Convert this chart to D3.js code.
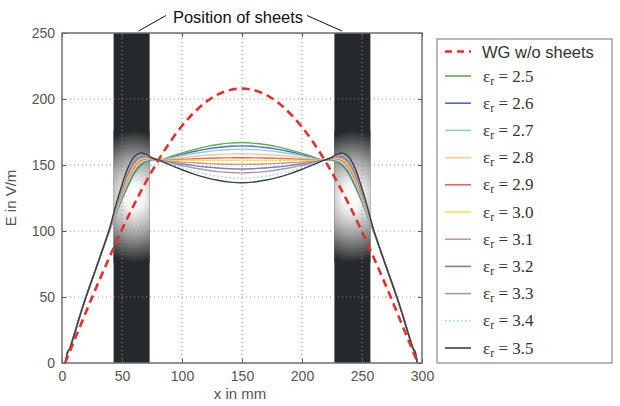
<!DOCTYPE html>
<html>
<head>
<meta charset="utf-8">
<script src="https://cdn.jsdelivr.net/npm/d3@7"></script>
<style>
  body { margin: 0; background: #fff; }
  svg { display: block; }
</style>
</head>
<body>
<svg width="620" height="406"></svg>
<script>
// ---- data ----
const xTicks = [0, 50, 100, 150, 200, 250, 300];
const yTicks = [0, 50, 100, 150, 200, 250];
const sheets = [[43, 73], [227, 257]];   // mm

// WG w/o sheets (red dashed)
const wgX = [2.5, 10, 20, 30, 40, 50, 60, 70, 80, 90, 100, 110, 120, 130, 140, 150,
             160, 170, 180, 190, 200, 210, 220, 230, 240, 250, 260, 270, 280, 290, 296.5];
const wgE = [0, 16.6, 38.7, 60.3, 81.1, 101.1, 119.9, 137.3, 153.2, 167.4, 179.7, 189.7, 197.8, 203.5, 206.9, 208,
             206.7, 203.2, 197.3, 189, 178.8, 166.3, 152, 136, 118.5, 99.5, 79.4, 58.4, 36.5, 14.4, 0];

// x positions of the eps_r curves
const epsX = [3, 5, 6, 10, 15, 20, 25, 30, 35,
              40, 45, 50, 55, 60, 65, 70, 75, 81,
              90, 100, 110, 120, 130, 140, 150,
              159, 169, 179, 189, 199, 209,
              218, 224, 229, 234, 239, 244, 249, 254, 259,
              264, 269, 274, 279, 284, 289, 293, 294, 296];
const rise = [0, 9, 10, 21, 36, 50, 63, 76, 89];   // common to all curves
const fall = [89, 76, 63, 50, 36, 21, 10, 9, 0];

const epsLabels = ["2.5", "2.6", "2.7", "2.8", "2.9", "3.0", "3.1", "3.2", "3.3", "3.4", "3.5"];
const epsColors = ["#55b547", "#5a66c4", "#86d2d8", "#f6c898", "#f0674a", "#f0e44a",
                   "#c49a9a", "#7484aa", "#ab94b4", "#8fd6d6", "#3c4044"];
const epsMid = [
  [101, 113, 124, 134, 143, 149, 152.5, 154, 153.5, 156.2, 159.2, 161.7, 163.9, 165.5, 166.6, 167,
   166.6, 165.5, 163.9, 161.7, 159.2, 156.2, 153.5, 154, 152.5, 149, 143, 134, 124, 113, 101],
  [101.2, 113.7, 125.1, 135.4, 144.3, 150, 153.1, 154.2, 153.5, 155.7, 158.1, 160.2, 162, 163.3, 164.2, 164.5,
   164.2, 163.3, 162, 160.2, 158.1, 155.7, 153.5, 154.2, 153.1, 150, 144.3, 135.4, 125.1, 113.7, 101.2],
  [101.4, 114.4, 126.2, 136.8, 145.6, 151, 153.6, 154.3, 153.5, 155.2, 157.1, 158.7, 160, 161.1, 161.7, 162,
   161.7, 161.1, 160, 158.7, 157.1, 155.2, 153.5, 154.3, 153.6, 151, 145.6, 136.8, 126.2, 114.4, 101.4],
  [101.6, 115.1, 127.3, 138.2, 146.9, 152, 154.2, 154.5, 153.5, 154.5, 155.6, 156.6, 157.4, 158, 158.4, 158.5,
   158.4, 158, 157.4, 156.6, 155.6, 154.5, 153.5, 154.5, 154.2, 152, 146.9, 138.2, 127.3, 115.1, 101.6],
  [101.8, 115.8, 128.4, 139.6, 148.2, 153, 154.7, 154.6, 153.5, 153.9, 154.3, 154.7, 155, 155.3, 155.4, 155.5,
   155.4, 155.3, 155, 154.7, 154.3, 153.9, 153.5, 154.6, 154.7, 153, 148.2, 139.6, 128.4, 115.8, 101.8],
  [102, 116.5, 129.5, 141, 149.5, 154, 155.3, 154.8, 153.5, 153.5, 153.5, 153.5, 153.5, 153.5, 153.5, 153.5,
   153.5, 153.5, 153.5, 153.5, 153.5, 153.5, 153.5, 154.8, 155.3, 154, 149.5, 141, 129.5, 116.5, 102],
  [102.2, 117.2, 130.6, 142.4, 150.8, 155, 155.8, 154.9, 153.5, 152.9, 152.2, 151.7, 151.2, 150.8, 150.6, 150.5,
   150.6, 150.8, 151.2, 151.7, 152.2, 152.9, 153.5, 154.9, 155.8, 155, 150.8, 142.4, 130.6, 117.2, 102.2],
  [102.4, 117.9, 131.7, 143.8, 152.1, 156, 156.4, 155.1, 153.5, 152.2, 150.8, 149.5, 148.5, 147.7, 147.2, 147,
   147.2, 147.7, 148.5, 149.5, 150.8, 152.2, 153.5, 155.1, 156.4, 156, 152.1, 143.8, 131.7, 117.9, 102.4],
  [102.6, 118.6, 132.8, 145.2, 153.4, 157, 156.9, 155.2, 153.5, 151.6, 149.5, 147.7, 146.2, 145, 144.3, 144,
   144.3, 145, 146.2, 147.7, 149.5, 151.6, 153.5, 155.2, 156.9, 157, 153.4, 145.2, 132.8, 118.6, 102.6],
  [102.8, 119.3, 133.9, 146.6, 154.7, 158, 157.5, 155.4, 153.5, 150.8, 147.8, 145.3, 143.1, 141.5, 140.4, 140,
   140.4, 141.5, 143.1, 145.3, 147.8, 150.8, 153.5, 155.4, 157.5, 158, 154.7, 146.6, 133.9, 119.3, 102.8],
  [103, 120, 135, 148, 156, 159, 158, 155.5, 153.5, 150.1, 146.4, 143.1, 140.4, 138.4, 137, 136.5,
   137, 138.4, 140.4, 143.1, 146.4, 150.1, 153.5, 155.5, 158, 159, 156, 148, 135, 120, 103]
];

// ---- drawing ----
const svg = d3.select("svg");
const font = "'Liberation Sans', Arial, sans-serif";

const x = d3.scaleLinear().domain([0, 300]).range([62, 422]);
const y = d3.scaleLinear().domain([0, 250]).range([363, 33]);

const defs = svg.append("defs");
defs.append("clipPath").attr("id", "plot")
  .append("rect").attr("x", 62).attr("y", 33).attr("width", 360).attr("height", 330);

// sheets with a soft white glow
sheets.forEach((s, i) => {
  const cx = (x(s[0]) + x(s[1])) / 2 + (i === 0 ? 3 : 0);
  const cy = y(126);
  const g = defs.append("radialGradient").attr("id", "glow" + i)
    .attr("gradientUnits", "userSpaceOnUse")
    .attr("cx", cx).attr("cy", cy).attr("r", 66)
    .attr("gradientTransform", `translate(${cx},${cy}) scale(0.75,1) translate(${-cx},${-cy})`);
  g.append("stop").attr("offset", 0).attr("stop-color", "#ffffff");
  g.append("stop").attr("offset", 0.2).attr("stop-color", "#f4f4f4");
  g.append("stop").attr("offset", 0.55).attr("stop-color", "#a8a8a8");
  g.append("stop").attr("offset", 1).attr("stop-color", "#26292b");

  svg.append("rect")
    .attr("x", x(s[0])).attr("y", y(250))
    .attr("width", x(s[1]) - x(s[0])).attr("height", y(0) - y(250))
    .attr("fill", "#26292b");
  svg.append("rect")
    .attr("x", x(s[0])).attr("y", cy - 66)
    .attr("width", x(s[1]) - x(s[0])).attr("height", 132)
    .attr("fill", `url(#glow${i})`);
});

// grid
const grid = svg.append("g").attr("stroke", "#8a8a8a").attr("stroke-width", 1)
  .attr("stroke-dasharray", "1,3");
grid.selectAll(".gx").data(xTicks.slice(1, -1)).join("line")
  .attr("x1", d => x(d)).attr("x2", d => x(d)).attr("y1", y(0)).attr("y2", y(250));
grid.selectAll(".gy").data(yTicks.slice(1, -1)).join("line")
  .attr("y1", d => y(d)).attr("y2", d => y(d)).attr("x1", x(0)).attr("x2", x(300));

// curves
const plot = svg.append("g").attr("clip-path", "url(#plot)").attr("fill", "none");
const line = d3.line().x(d => x(d[0])).y(d => y(d[1])).curve(d3.curveCatmullRom.alpha(0.5));

epsMid.forEach((mid, i) => {
  const vals = rise.concat(mid, fall);
  plot.append("path")
    .datum(epsX.map((xv, k) => [xv, vals[k]]))
    .attr("d", line)
    .attr("stroke", epsColors[i])
    .attr("stroke-width", 1.4)
    .attr("stroke-dasharray", i === 9 ? "1.5,2.5" : null);
});

plot.append("path")
  .datum(wgX.map((xv, k) => [xv, wgE[k]]))
  .attr("d", line)
  .attr("stroke", "#e2302c")
  .attr("stroke-width", 2.6)
  .attr("stroke-dasharray", "8,5");

// axes (inward ticks on all sides)
const axisStyle = g => {
  g.select(".domain").remove();
  g.selectAll("line").attr("stroke", "#555");
  g.selectAll("text").attr("fill", "#555").attr("font-size", 14).attr("font-family", font);
};
svg.append("g").attr("transform", `translate(0,${y(0)})`)
  .call(d3.axisBottom(x).tickValues(xTicks).tickSize(-4).tickPadding(8)).call(axisStyle);
svg.append("g").attr("transform", `translate(${x(0)},0)`)
  .call(d3.axisLeft(y).tickValues(yTicks).tickSize(-4).tickPadding(7)).call(axisStyle);
svg.append("g").attr("transform", `translate(0,${y(250)})`)
  .call(d3.axisTop(x).tickValues(xTicks).tickSize(-4).tickFormat("")).call(axisStyle);
svg.append("g").attr("transform", `translate(${x(300)},0)`)
  .call(d3.axisRight(y).tickValues(yTicks).tickSize(-4).tickFormat("")).call(axisStyle);

svg.append("rect")
  .attr("x", x(0)).attr("y", y(250)).attr("width", x(300) - x(0)).attr("height", y(0) - y(250))
  .attr("fill", "none").attr("stroke", "#6e6e6e").attr("stroke-width", 1.5);

// axis titles
svg.append("text").attr("x", 240).attr("y", 399).attr("text-anchor", "middle")
  .attr("font-family", font).attr("font-size", 15).attr("fill", "#555").text("x in mm");
svg.append("text").attr("transform", "translate(16,198) rotate(-90)").attr("text-anchor", "middle")
  .attr("font-family", font).attr("font-size", 15).attr("fill", "#555").text("E in V/m");

// annotation
svg.append("text").attr("x", 238).attr("y", 23).attr("text-anchor", "middle")
  .attr("font-family", font).attr("font-size", 16.5).attr("fill", "#111").text("Position of sheets");
svg.append("path").attr("d", "M138.5,31 L166,15.5 M307,15.5 L342,31")
  .attr("stroke", "#111").attr("stroke-width", 1).attr("fill", "none");

// legend
const leg = svg.append("g");
leg.append("rect").attr("x", 437).attr("y", 39).attr("width", 175).attr("height", 324)
  .attr("fill", "#fff").attr("stroke", "#8a8a8a").attr("stroke-width", 1.2);

leg.append("line").attr("x1", 445).attr("x2", 471).attr("y1", 51.5).attr("y2", 51.5)
  .attr("stroke", "#e2302c").attr("stroke-width", 2.4).attr("stroke-dasharray", "7,5");
leg.append("text").attr("x", 482).attr("y", 57.5)
  .attr("font-family", font).attr("font-size", 16.5).attr("fill", "#333").text("WG w/o sheets");

epsLabels.forEach((lab, i) => {
  const ly = 76 + i * 27.2;
  leg.append("line").attr("x1", 445).attr("x2", 471).attr("y1", ly).attr("y2", ly)
    .attr("stroke", epsColors[i]).attr("stroke-width", 1.6)
    .attr("stroke-dasharray", i === 9 ? "1.5,2.5" : null);
  const t = leg.append("text").attr("x", 483).attr("y", ly + 5.5)
    .attr("font-family", "'Liberation Serif', 'Times New Roman', serif")
    .attr("font-size", 17).attr("fill", "#333");
  t.append("tspan").text("ε");
  t.append("tspan").attr("font-size", 12).attr("dy", 3).text("r");
  t.append("tspan").attr("dy", -3).text(" = " + lab);
});
</script>
</body>
</html>
